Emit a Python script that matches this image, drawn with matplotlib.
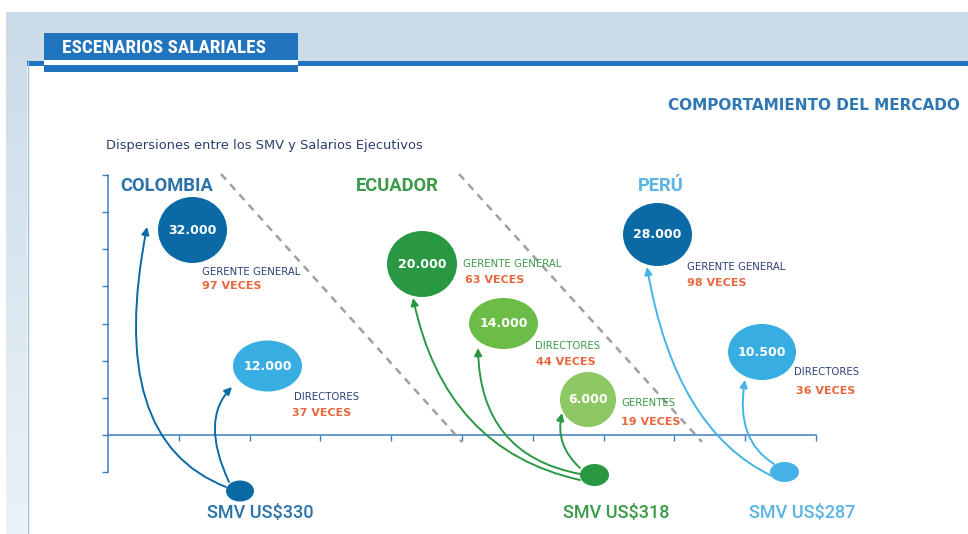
import numpy as np
import matplotlib.pyplot as plt
from matplotlib.patches import Ellipse, Rectangle, FancyArrowPatch
from matplotlib.path import Path

# data
countries = ["COLOMBIA", "ECUADOR", "PERÚ"]
smv = [330, 318, 287]
bubble_country = [0, 0, 1, 1, 1, 2, 2]
roles = ["GERENTE GENERAL", "DIRECTORES", "GERENTE GENERAL", "DIRECTORES",
         "GERENTES", "GERENTE GENERAL", "DIRECTORES"]
salaries = [32000, 12000, 20000, 14000, 6000, 28000, 10500]
veces = [97, 37, 63, 44, 19, 98, 36]

# layout (pixel space)
bubble_xy = [(192.5, 230), (267.5, 366), (422, 264), (503.5, 323.5),
             (588, 399.5), (657.5, 234.5), (762, 352)]
bubble_wh = [(69, 66), (69, 51), (70, 66), (69, 51), (56, 55), (69, 63), (68, 56)]
bubble_col = ["#0b6aa5", "#37ade2", "#2a9843", "#6cbd47", "#8dc865", "#0b6aa5", "#37ade2"]
role_xy = [(202, 272), (294, 397), (463, 264), (535, 346), (621, 403), (687, 267), (794, 372)]
veces_xy = [(202, 286), (292, 413), (465, 280), (536, 362), (621, 422), (687, 283), (796, 391)]
arrows = [((226, 487), (105, 440), (147, 227)),
          ((229, 482), (200, 420), (232, 387)),
          ((580, 480), (445, 450), (413, 298)),
          ((580, 474), (480, 455), (478, 348)),
          ((580, 468), (555, 445), (562, 413)),
          ((772, 476), (675, 430), (647, 267)),
          ((774, 464), (735, 440), (745, 380))]
dot_xy = [(240, 491), (594.5, 475), (784.5, 472)]
dot_wh = [(28, 21), (29, 22), (29, 20)]
dot_col = ["#0b6aa5", "#2a9843", "#45b3e6"]
country_col = ["#2a72a8", "#3a9a48", "#5ab4e4"]
country_x = [120, 356, 638]
smv_x = [260, 616, 802]
role_col = ["#2b3f7a", "#3a9a48", "#2b3f7a"]
orange = "#e8673c"

W, H = 968, 534
fig = plt.figure(figsize=(W / 100, H / 100), dpi=100)

# background layer
bg = fig.add_axes([0, 0, 1, 1], zorder=0)
bg.set_xlim(0, W)
bg.set_ylim(H, 0)
bg.axis("off")
grad = np.linspace(0, 1, 100)[:, None]
c1 = np.array([0.79, 0.86, 0.91])
c2 = np.array([0.92, 0.95, 0.97])
img = c1 + (c2 - c1) * grad[..., None]
bg.imshow(np.repeat(img, 2, axis=1), extent=(6, W, H, 12), aspect="auto")
bg.add_patch(Rectangle((27, 62), W - 27, H - 62, color="white", lw=0))
bg.plot([27.5, 27.5], [62, H], color="#9cbedc", lw=1)
bg.add_patch(Rectangle((27, 61), W - 27, 4.5, color="#1f74bd", lw=0))
bg.add_patch(Rectangle((44, 33), 254, 27, color="#1f74bd", lw=0))
bg.add_patch(Rectangle((44, 60), 254, 4.5, color="white", lw=0))
bg.add_patch(Rectangle((44, 64.5), 254, 7.5, color="#1f74bd", lw=0))
bg.text(62, 48, "ESCENARIOS SALARIALES", color="white", fontsize=13.8,
        fontweight="bold", family=["Roboto Condensed", "Lato", "DejaVu Sans"],
        va="center", ha="left")
bg.text(960, 106, "COMPORTAMIENTO DEL MERCADO", color="#2f78b4", fontsize=11,
        fontweight="bold", va="center", ha="right")
bg.text(106, 145, "Dispersiones entre los SMV y Salarios Ejecutivos",
        color="#2c3e6c", fontsize=9.4, va="center", ha="left")

# chart axis layer
ax2 = fig.add_axes([108 / W, 1 - 472 / H, (816 - 108) / W, (472 - 175) / H], zorder=1)
ax2.patch.set_visible(False)
ax2.set_xlim(0, 10)
ax2.set_ylim(-1, 7)
ax2.set_xticks(range(1, 11))
ax2.set_yticks(range(-1, 8))
ax2.set_xticklabels([])
ax2.set_yticklabels([])
for s in ["top", "right"]:
    ax2.spines[s].set_visible(False)
ax2.spines["bottom"].set_position(("data", 0))
for s in ["left", "bottom"]:
    ax2.spines[s].set_color("#3c7dc0")
    ax2.spines[s].set_linewidth(1.1)
ax2.tick_params(axis="both", direction="out", length=4, width=1, color="#3c7dc0")

# overlay layer
ax = fig.add_axes([0, 0, 1, 1], zorder=2)
ax.patch.set_visible(False)
ax.set_xlim(0, W)
ax.set_ylim(H, 0)
ax.axis("off")

for (x0, y0, x1, y1) in [(221, 174, 462, 442), (459, 174, 702, 442)]:
    ax.plot([x0, x1], [y0, y1], color="#a0a0a0", lw=1.8, dashes=(3, 2.5))

for i, c in enumerate(countries):
    ax.text(country_x[i], 186, c, color=country_col[i], fontsize=13.2,
            fontweight="bold", family=["Roboto", "DejaVu Sans"], va="center", ha="left")
    ax.add_patch(Ellipse(dot_xy[i], *dot_wh[i], color=dot_col[i], lw=0))
    ax.text(smv_x[i], 513, f"SMV US${smv[i]}", color=country_col[i], fontsize=13,
            fontweight="medium", family=["Roboto", "DejaVu Sans"],
            va="center", ha="center")

for i in range(len(salaries)):
    ci = bubble_country[i]
    ax.add_patch(Ellipse(bubble_xy[i], *bubble_wh[i], color=bubble_col[i], lw=0))
    ax.text(*bubble_xy[i], f"{salaries[i]:,}".replace(",", "."), color="white",
            fontsize=9, fontweight="bold", va="center", ha="center")
    ax.text(*role_xy[i], roles[i], color=role_col[ci], fontsize=7.3,
            va="center", ha="left")
    ax.text(*veces_xy[i], f"{veces[i]} VECES", color=orange, fontsize=8,
            fontweight="bold", va="center", ha="left")
    p0, c, p2 = arrows[i]
    path = Path([p0, c, p2], [Path.MOVETO, Path.CURVE3, Path.CURVE3])
    ax.add_patch(FancyArrowPatch(path=path, arrowstyle="-|>", mutation_scale=11,
                                 color=dot_col[ci], lw=1.4))

fig.savefig("out.png", dpi=100)
